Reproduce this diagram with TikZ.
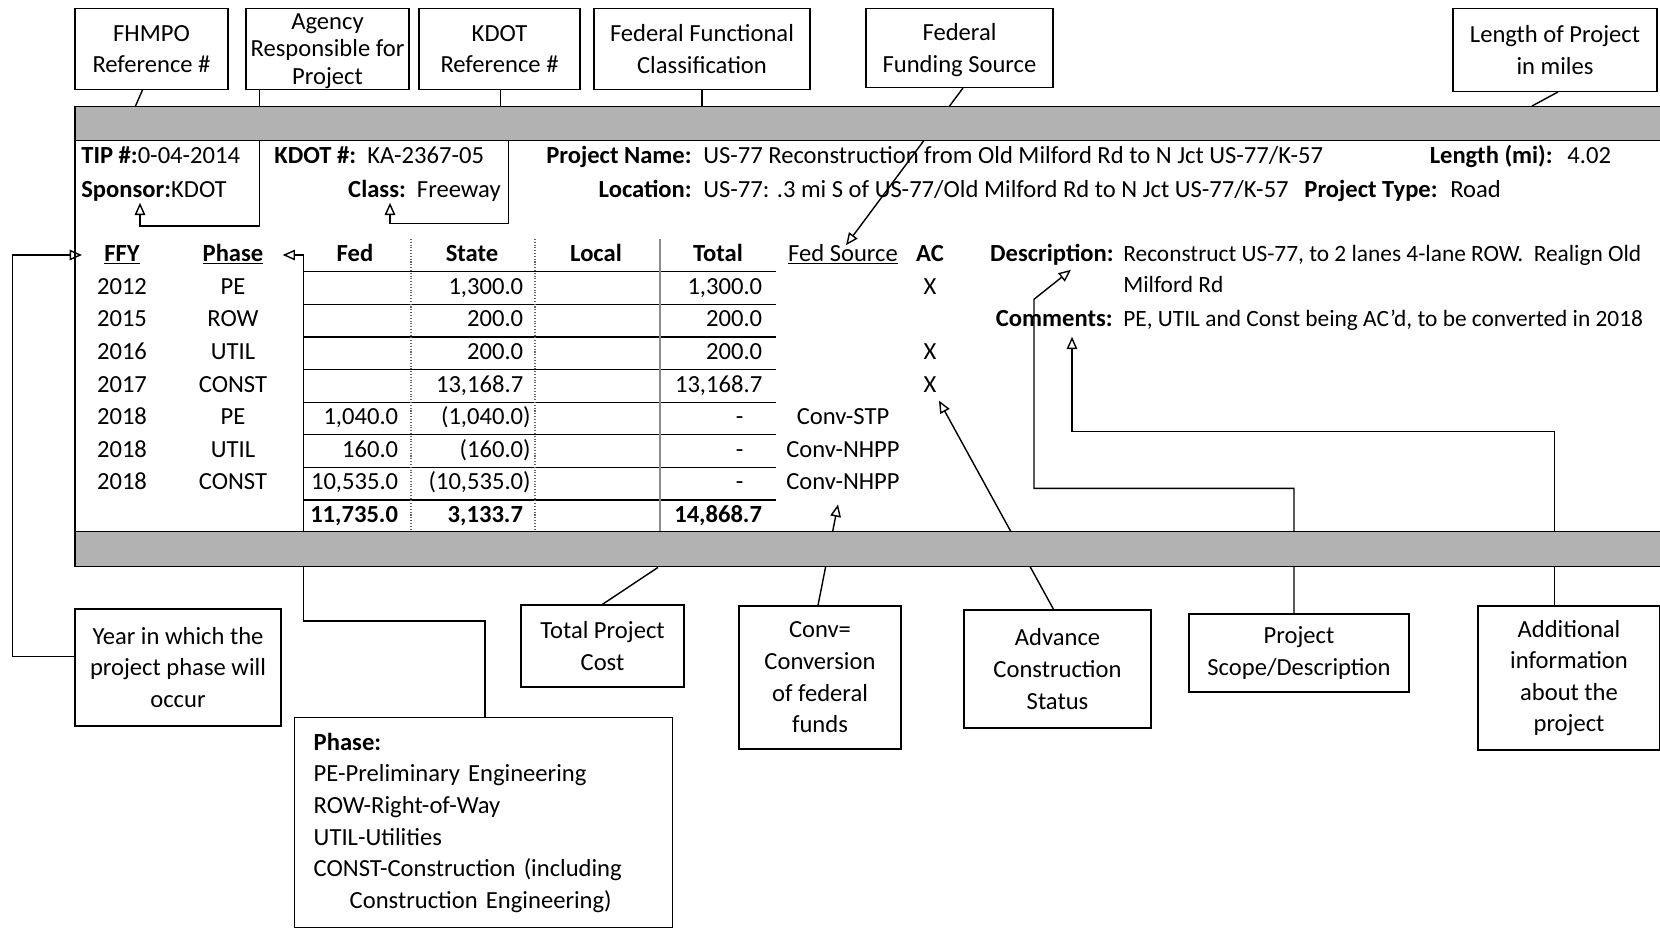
\documentclass[tikz,border=0pt]{standalone}
\usepackage{fontspec}
\setmainfont{Carlito}
\usetikzlibrary{positioning, calc, arrows.meta, backgrounds}

\newcommand\sz{\fontsize{14}{18}\selectfont}
\newcommand\rp{\hphantom{)}}

\tikzset{
  dims/.style 2 args={minimum width=#1*0.02cm, minimum height=#2*0.02cm},
  callout/.style={draw, line width=0.8pt, align=center, inner sep=0pt, font=\sz},
  field/.style={inner sep=0pt, text height=10pt, text depth=3pt, font=\sz},
  key/.style={field, anchor=east, font=\sz\bfseries},
  entry/.style={field, anchor=west},
  num/.style={field, anchor=east},
  head/.style={field, font=\sz\bfseries},
  link/.style={draw, line width=0.8pt},
  pointer/.style={link, -{Triangle[open, length=7pt, width=6pt]}},
  band/.style={draw, line width=0.8pt, fill=black!30, inner sep=0pt, anchor=north west},
  rule/.style={line width=0.6pt}
}

\begin{document}
\begin{tikzpicture}[x=0.02cm, y=-0.02cm]
\useasboundingbox (0,0) rectangle (1660,927);

% callouts along the top
\node[callout, dims={153}{80.5}] (fhmpo) at (151.5,49) {FHMPO\\Reference \#};
\node[callout, dims={163}{80.5}, text depth=0pt, font=\fontsize{14}{15.5}\selectfont] (agency) at (327.5,49) {Agency\\Responsible for\\Project};
\node[callout, dims={161}{80.5}] (kdotref) at (499.5,49) {KDOT\\Reference \#};
\node[callout, dims={216}{80.5}] (fedclass) at (702,49) {Federal Functional\\Classification};
\node[callout, dims={187}{78.5}, text depth=0pt] (fedfund) at (959.5,48) {Federal\\Funding Source};
\node[callout, dims={204}{82.5}] (lengthbox) at (1555,50) {Length of Project\\in miles};

% shaded bands of the record
\node[band, dims={1600}{34}] (topband) at (75,106) {};
\node[band, dims={1600}{35}] (botband) at (75,531) {};
\draw[link] (topband.north west) -- (botband.south west);

% record heading
\node[entry] (tip) at (81,157) {\textbf{TIP \#:}0-04-2014};
\node[entry] (sponsor) at (81,191) {\textbf{Sponsor:}KDOT};
\node[entry] (kdotno) at (274,157) {\textbf{KDOT \#:}\ \ KA-2367-05};
\node[num] (class) at (501,191) {\textbf{Class:}\ \ Freeway};
\node[key] (pname) at (692,157) {Project Name:};
\node[entry] (pnameval) at (703,157) {US-77 Reconstruction from Old Milford Rd to N Jct US-77/K-57};
\node[key] (loc) at (692,191) {Location:};
\node[entry] (locval) at (703,191) {US-77: .3 mi S of US-77/Old Milford Rd to N Jct US-77/K-57};
\node[key] (len) at (1553,157) {Length (mi):};
\node[entry] (lenval) at (1567,157) {4.02};
\node[key] (ptype) at (1438,191) {Project Type:};
\node[entry] (ptypeval) at (1450,191) {Road};

% table
\node[head] (ffy) at (122,255) {\underline{FFY}};
\node[head] (hphase) at (233,255) {\underline{Phase}};
\node[head] (hfed) at (355,255) {Fed};
\node[head] (hstate) at (472,255) {State};
\node[head] (hlocal) at (596,255) {Local};
\node[head] (htotal) at (718,255) {Total};
\node[field] (fedsrc) at (843,255) {\underline{Fed Source}};
\node[head] (hac) at (930,255) {AC};

\foreach \y/\yr/\ph/\fd/\st/\tot/\src/\ac [count=\i] in {
  288.0/2012/PE/{}/{1,300.0\rp}/{1,300.0\rp}/{}/X,
  320.6/2015/ROW/{}/{200.0\rp}/{200.0\rp}/{}/{},
  353.3/2016/UTIL/{}/{200.0\rp}/{200.0\rp}/{}/X,
  385.9/2017/CONST/{}/{13,168.7\rp}/{13,168.7\rp}/{}/X,
  418.5/2018/PE/{1,040.0\rp}/{(1,040.0)}/{-\kern15pt}/Conv-STP/{},
  451.1/2018/UTIL/{160.0\rp}/{(160.0)}/{-\kern15pt}/Conv-NHPP/{},
  483.7/2018/CONST/{10,535.0\rp}/{(10,535.0)}/{-\kern15pt}/Conv-NHPP/{}}
{
  \node[field] (yr\i) at (122,\y) {\yr};
  \node[field] (ph\i) at (233,\y) {\ph};
  \node[num] (fed\i) at (406,\y) {\fd};
  \node[num] (st\i) at (531,\y) {\st};
  \node[num] (tot\i) at (770,\y) {\tot};
  \node[field] (src\i) at (843,\y) {\src};
  \node[field] (ac\i) at (930,\y) {\ac};
}
\node[num, font=\sz\bfseries] (fedsum) at (406,516.3) {11,735.0\rp};
\node[num, font=\sz\bfseries] (stsum) at (531,516.3) {3,133.7\rp};
\node[num, font=\sz\bfseries] (totsum) at (770,516.3) {14,868.7\rp};

\foreach \y in {271.7,304.3,337,369.6,402.2,434.8,467.4}
  \draw[rule] (303,\y) -- (776,\y);
\draw[line width=1.2pt] (303,500) -- (776,500);
\draw[rule, densely dotted, black!60] (411,239) -- (411,531);
\draw[rule, densely dotted, black!60] (535,239) -- (535,531);
\draw[rule, black!45] (660,239) -- (660,531);

% description and comments
\node[key] (desc) at (1114,255) {Description:};
\node[entry, font=\fontsize{13.3}{18}\selectfont] (descval) at (1123,255) {Reconstruct US-77, to 2 lanes 4-lane ROW.\ \ Realign Old};
\node[entry, font=\fontsize{13.3}{18}\selectfont] (descval2) at (1123,286) {Milford Rd};
\node[key] (comm) at (1113,320) {Comments:};
\node[entry, font=\fontsize{13.3}{18}\selectfont] (commval) at (1123,320) {PE, UTIL and Const being AC'd, to be converted in 2018};

% callouts along the bottom
\node[callout, dims={206}{117}] (yearbox) at (178,667.5) {Year in which the\\project phase will\\occur};
\node[callout, anchor=north west, align=left, text width=6.8cm, dims={378}{210},
      inner xsep=0.38cm, inner ysep=0.26cm] (phasebox) at (294,717)
  {\textbf{Phase:}\\PE-Preliminary Engineering\\ROW-Right-of-Way\\UTIL-Utilities\\CONST-Construction (including\\\hspace*{0.72cm}Construction Engineering)};
\node[callout, dims={163}{82}] (totalbox) at (602.5,646) {Total Project\\Cost};
\node[callout, dims={162}{143}] (convbox) at (820,677.5) {Conv=\\Conversion\\of federal\\funds};
\node[callout, dims={187}{118}] (acbox) at (1057.5,669) {Advance\\Construction\\Status};
\node[callout, dims={220}{78}] (scopebox) at (1299,653) {Project\\Scope/Description};
\node[callout, dims={182}{144}] (addbox) at (1569,678) {Additional\\information\\about the\\project};

% connectors
\begin{scope}[on background layer]
\draw[link] ($(fhmpo.south)+(-9,0)$) -- ($(fhmpo.south |- topband.north)+(-16,0)$);
\draw[link] ($(agency.south west)+(14,0)$) -- ($(agency.south west |- topband.north)+(14,0)$);
\draw[pointer] ($(agency.south west |- topband.south)+(14,0)$) -- ++(0,84.5) -| ($(sponsor.south west)+(59,0)$);
\draw[link] ($(kdotref.south west)+(82,0)$) -- ($(kdotref.south west |- topband.north)+(82,0)$);
\draw[pointer] ($(kdotref.south west |- topband.south)+(90,0)$) -- ++(0,82) -| ($(class.south east)+(-111,0)$);
\draw[link] (fedclass.south) -- (fedclass.south |- topband.north);
\draw[pointer] ($(fedfund.south)+(3.5,0)$) -- ($(fedsrc.north)+(3,2)$);
\draw[link] ($(lengthbox.south)+(3,0)$) -- ($(lengthbox.south |- topband.north)+(-23,0)$);

\draw[pointer] ($(yearbox.west)+(0,-11)$) -- ++(-62,0) |- ($(ffy.west)+(-22,0)$);
\draw[pointer] ($(phasebox.north west)+(191,0)$) -- ++(0,-96) -| ($(hphase.east)+(40,0)$) -- ($(hphase.east)+(19,0)$);
\draw[link] (totalbox.north) -- ($(botband.south west)+(583,0)$);
\draw[pointer] ($(convbox.north)+(-2,0)$) -- ($(src7.south)+(-5,9)$);
\draw[pointer] ($(acbox.north)+(-4,0)$) -- ($(ac4.south)+(9,3)$);
\draw[pointer] ($(scopebox.north)+(-5,0)$) -- ++(0,-125) -- ++(-260,0) -- ++(0,-189) -- ($(desc.south east)+(-43,3)$);
\draw[pointer] ($(addbox.north west)+(77,0)$) -- ++(0,-174) -| ($(comm.south east)+(-41,5)$);
\end{scope}
\end{tikzpicture}
\end{document}
